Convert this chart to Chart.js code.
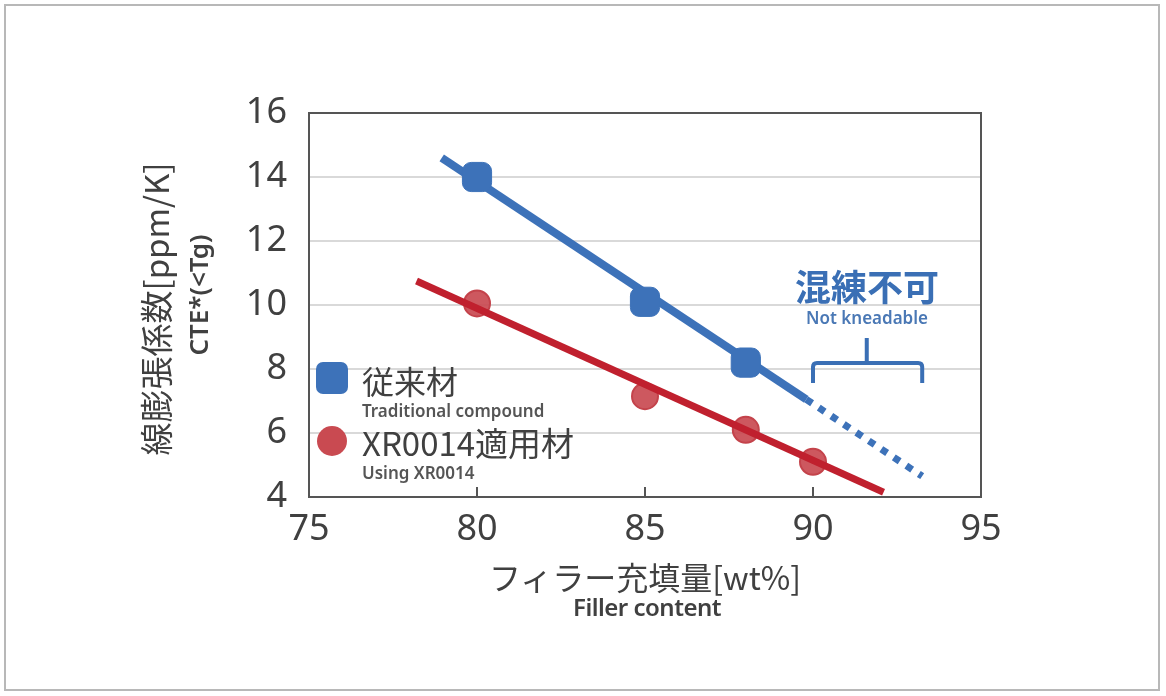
<!DOCTYPE html>
<html>
<head>
<meta charset="utf-8">
<script src="https://cdn.jsdelivr.net/npm/chart.js@4.4.1/dist/chart.umd.min.js"></script>
<style>
    html, body { margin: 0; padding: 0; background: #fff; }
    #wrap { position: relative; width: 1166px; height: 696px; overflow: hidden; font-family: "Noto Sans", "Noto Sans CJK JP", sans-serif; color: #404040; }
    #frame { position: absolute; left: 4px; top: 4px; width: 1156px; height: 687px; border: 2px solid #b8b8b8; box-sizing: border-box; }
    canvas { position: absolute; left: 0; top: 0; }
    .txt { position: absolute; white-space: nowrap; transform: translate(-50%, -50%); line-height: 1; }
    .left { transform: translate(0, -50%); }
    .rot { transform: translate(-50%, -50%) rotate(-90deg); }
    .jp { font-family: "Noto Sans CJK JP", "Noto Sans", sans-serif; }
    .marker { position: absolute; }
</style>
</head>
<body>
<div id="wrap">
    <div id="frame"></div>
    <canvas id="cteChart" width="1166" height="696"></canvas>

    <div class="txt rot jp" style="left:155px; top:309px; font-size:33px;">線膨張係数[ppm/K]</div>
    <div class="txt rot" style="left:198px; top:295px; font-size:26px; font-weight:600;">CTE*(&lt;Tg)</div>

    <div class="txt jp" style="left:645px; top:576px; font-size:32px;">フィラー充填量[wt%]</div>
    <div class="txt" style="left:647px; top:607px; font-size:24px; font-weight:600; letter-spacing:-0.5px;">Filler content</div>

    <div class="marker" style="left:316px; top:362px; width:32px; height:32px; border-radius:7px; background:#3d72b9;"></div>
    <div class="txt left jp" style="left:362px; top:380px; font-size:32px;">従来材</div>
    <div class="txt left" style="left:362px; top:410px; font-size:17px; font-weight:600; color:#555;">Traditional compound</div>

    <div class="marker" style="left:317px; top:426px; width:30px; height:30px; border-radius:50%; background:#c94a51;"></div>
    <div class="txt left jp" style="left:362px; top:442px; font-size:33px;">XR0014適用材</div>
    <div class="txt left" style="left:362px; top:472px; font-size:17px; font-weight:600; color:#555;">Using XR0014</div>

    <div class="txt jp" style="left:867px; top:285px; font-size:36px; font-weight:700; color:#3a6fb5;">混練不可</div>
    <div class="txt" style="left:867px; top:317px; font-size:17px; font-weight:600; color:#4a78b5;">Not kneadable</div>
</div>

<script>
// measured points
const fillerTraditional = [80, 85, 88];
const cteTraditional = [14.0, 10.1, 8.2];
const fillerXR0014 = [80, 85, 88, 90];
const cteXR0014 = [10.05, 7.15, 6.1, 5.1];

// trend lines (start / end)
const trendTraditionalX = [78.95, 89.8];
const trendTraditionalY = [14.6, 7.05];
const extrapTraditionalX = [89.8, 93.25];
const extrapTraditionalY = [7.05, 4.65];
const trendXR0014X = [78.2, 92.1];
const trendXR0014Y = [10.75, 4.15];

// axis ticks
const xTicks = [75, 80, 85, 90, 95];
const yTicks = [4, 6, 8, 10, 12, 14, 16];

// "not kneadable" bracket, in data units: left, middle, right x / stem top, bar, leg bottom y
const bracketX = [90.0, 91.6, 93.25];
const bracketY = [8.97, 8.19, 7.56];

const blue = "#3d72b9";
const red = "#c0202e";

function toPoints(xs, ys) {
    return xs.map((x, i) => ({ x: x, y: ys[i] }));
}

const frameAndBracket = {
    id: "frameAndBracket",
    afterDraw(chart) {
        const ctx = chart.ctx;
        const area = chart.chartArea;
        const xs = chart.scales.x;
        const ys = chart.scales.y;

        ctx.save();
        ctx.strokeStyle = "#555";
        ctx.lineWidth = 2;
        ctx.strokeRect(area.left, area.top, area.right - area.left, area.bottom - area.top);

        // inward tick marks on the x axis
        ctx.beginPath();
        xTicks.forEach(v => {
            const px = Math.round(xs.getPixelForValue(v));
            ctx.moveTo(px, area.bottom);
            ctx.lineTo(px, area.bottom - 10);
        });
        ctx.stroke();

        const left = xs.getPixelForValue(bracketX[0]);
        const mid = xs.getPixelForValue(bracketX[1]);
        const right = xs.getPixelForValue(bracketX[2]);
        const top = ys.getPixelForValue(bracketY[0]);
        const bar = ys.getPixelForValue(bracketY[1]);
        const bottom = ys.getPixelForValue(bracketY[2]);

        ctx.strokeStyle = "#3a6fb5";
        ctx.lineWidth = 4;
        ctx.lineJoin = "round";
        ctx.beginPath();
        ctx.moveTo(left, bottom);
        ctx.lineTo(left, bar + 4);
        ctx.quadraticCurveTo(left, bar, left + 4, bar);
        ctx.lineTo(right - 4, bar);
        ctx.quadraticCurveTo(right, bar, right, bar + 4);
        ctx.lineTo(right, bottom);
        ctx.moveTo(mid, top);
        ctx.lineTo(mid, bar);
        ctx.stroke();
        ctx.restore();
    }
};

new Chart(document.getElementById("cteChart"), {
    type: "scatter",
    data: {
        datasets: [
            {
                label: "XR0014 trend",
                data: toPoints(trendXR0014X, trendXR0014Y),
                showLine: true,
                borderColor: red,
                borderWidth: 7,
                pointRadius: 0,
                order: 0
            },
            {
                label: "XR0014適用材",
                data: toPoints(fillerXR0014, cteXR0014),
                backgroundColor: "rgba(201, 74, 81, 0.92)",
                borderColor: "#c4434b",
                borderWidth: 2,
                pointStyle: "circle",
                pointRadius: 13,
                order: 1
            },
            {
                label: "従来材",
                data: toPoints(fillerTraditional, cteTraditional),
                backgroundColor: blue,
                borderColor: blue,
                pointStyle: "rectRounded",
                pointRadius: 17,
                order: 2
            },
            {
                label: "従来材 trend",
                data: toPoints(trendTraditionalX, trendTraditionalY),
                showLine: true,
                borderColor: blue,
                borderWidth: 8,
                pointRadius: 0,
                order: 3
            },
            {
                label: "従来材 extrapolation",
                data: toPoints(extrapTraditionalX, extrapTraditionalY),
                showLine: true,
                borderColor: blue,
                borderWidth: 7,
                borderDash: [7, 8],
                borderCapStyle: "butt",
                pointRadius: 0,
                order: 4
            }
        ]
    },
    options: {
        responsive: false,
        animation: false,
        devicePixelRatio: 1,
        layout: {
            padding: { left: 229, top: 113, right: 185, bottom: 139 }
        },
        plugins: {
            legend: { display: false },
            tooltip: { enabled: false }
        },
        scales: {
            x: {
                type: "linear",
                min: xTicks[0],
                max: xTicks[xTicks.length - 1],
                afterBuildTicks: scale => { scale.ticks = xTicks.map(v => ({ value: v })); },
                afterFit: scale => { scale.height = 60; },
                grid: {
                    drawOnChartArea: false,
                    drawTicks: false
                },
                border: { display: true, color: "#555", width: 2 },
                ticks: {
                    padding: 11,
                    color: "#404040",
                    font: { family: "Noto Sans", size: 36 }
                }
            },
            y: {
                min: yTicks[0],
                max: yTicks[yTicks.length - 1],
                afterBuildTicks: scale => { scale.ticks = yTicks.map(v => ({ value: v })); },
                afterFit: scale => { scale.width = 80; },
                grid: {
                    drawTicks: false,
                    color: "#d9d9d9",
                    lineWidth: 2
                },
                border: { display: true, color: "#555", width: 2 },
                ticks: {
                    padding: 22,
                    color: "#404040",
                    font: { family: "Noto Sans", size: 36 }
                }
            }
        }
    },
    plugins: [frameAndBracket]
});
</script>
</body>
</html>
